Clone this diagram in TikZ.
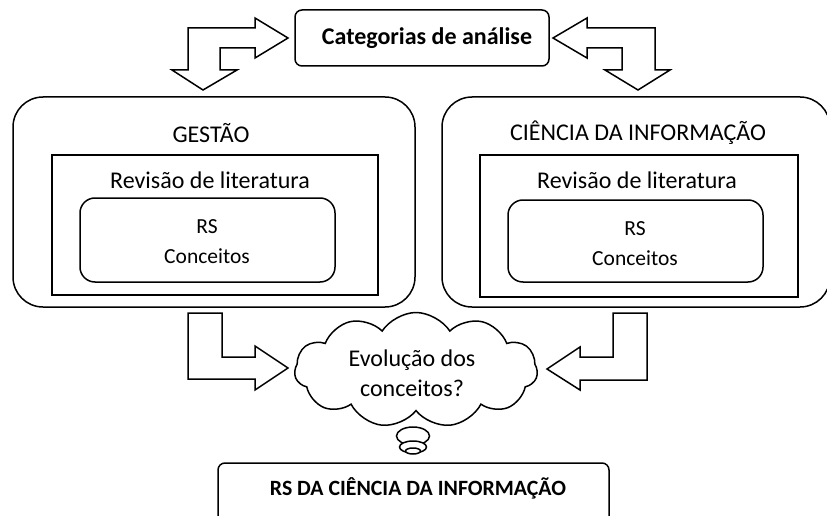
\documentclass[tikz,border=0pt]{standalone}
\usepackage{fontspec}
\setmainfont{Carlito}
\usetikzlibrary{shapes.symbols,shapes.geometric}
\begin{document}
\begin{tikzpicture}[x=1pt,y=-1pt,line width=1.5pt,
  txt/.style={font=\fontsize{24}{30}\selectfont, align=center, inner sep=0pt},
  btxt/.style={font=\fontsize{24}{30}\selectfont\bfseries, align=center, inner sep=0pt},
  stxt/.style={font=\fontsize{21.5}{30}\selectfont, align=center, inner sep=0pt},
  bubble/.style={draw, fill=white, ellipse, inner sep=0pt},
  blockarrow/.style={draw, fill=white, line join=miter}]
\useasboundingbox (0,0) rectangle (827,516);
\clip (0,0) rectangle (827,516);
% top box
\node[draw, rounded corners=7pt, minimum width=254pt, minimum height=56pt] (cat) at (422,38) {};
\node[btxt] (cattxt) at (427,38) {Categorias de análise};
% left big box
\node[draw, rounded corners=30pt, minimum width=402pt, minimum height=210pt] (gest) at (214,202) {};
\node[draw, minimum width=326pt, minimum height=140pt] (gestrev) at (215,225) {};
\node[draw, rounded corners=15pt, minimum width=255pt, minimum height=84pt] (gestrs) at (207.5,240) {};
\node[txt] (gesttxt) at (211,133) {GESTÃO};
\node[txt] (gestrevtxt) at (210,180) {Revisão de literatura};
\node[stxt] (gestrstxt) at (207,242) {RS\\Conceitos};
% right big box
\node[draw, rounded corners=30pt, minimum width=388pt, minimum height=210pt] (ci) at (636,202) {};
\node[draw, minimum width=318pt, minimum height=142pt] (cirev) at (639,226) {};
\node[draw, rounded corners=15pt, minimum width=255pt, minimum height=82pt] (cirs) at (635.5,241) {};
\node[txt] (citxt) at (638,133) {CIÊNCIA DA INFORMAÇÃO};
\node[txt] (cirevtxt) at (637,180) {Revisão de literatura};
\node[stxt] (cirstxt) at (635,244) {RS\\Conceitos};
% bottom box
\node[draw, rounded corners=7pt, minimum width=391pt, minimum height=80pt] (rsci) at (413.5,503) {};
\node[font=\fontsize{21.8}{26}\selectfont\bfseries, inner sep=0pt] (rscitxt) at (418,488) {RS DA CIÊNCIA DA INFORMAÇÃO};
% cloud
\node[draw, cloud, cloud puffs=11, cloud puff arc=115, aspect=2.1, minimum width=243pt, minimum height=115pt, inner sep=0pt] (cloud) at (416,370) {};
\node[txt] (cloudtxt) at (412,373) {Evolução dos\\conceitos?};
\node[bubble, minimum width=33pt, minimum height=18pt] (b1) at (413,436) {};
\node[bubble, minimum width=27pt, minimum height=12pt] (b2) at (413,447) {};
\node[bubble, minimum width=15pt, minimum height=6pt] (b3) at (413,451) {};
% block arrows
\draw[blockarrow] (188,70) -- (188,28) -- (255,28) -- (255,18) -- (288,38) -- (255,58) -- (255,48) -- (220,48) -- (220,70) -- (237,70) -- (203,90) -- (172,70) -- cycle;
\draw[blockarrow] (587,18) -- (553,38) -- (587,58) -- (587,48) -- (622,48) -- (622,70) -- (605,70) -- (638,90) -- (670,70) -- (655,70) -- (655,28) -- (587,28) -- cycle;
\draw[blockarrow] (188,313) -- (222,313) -- (222,357) -- (255,357) -- (255,346) -- (288,368) -- (255,390) -- (255,379) -- (188,379) -- cycle;
\draw[blockarrow] (647,313) -- (613,313) -- (613,357) -- (580,357) -- (580,347) -- (547,369) -- (580,390) -- (580,380) -- (647,380) -- cycle;
\end{tikzpicture}
\end{document}
